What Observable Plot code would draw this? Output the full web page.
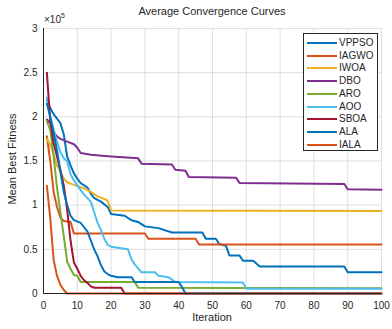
<!DOCTYPE html>
<html><head><meta charset="utf-8">
<script src="https://cdn.jsdelivr.net/npm/d3@7"></script>
<script src="https://cdn.jsdelivr.net/npm/@observablehq/plot@0.6"></script>
<style>
html,body{margin:0;padding:0;background:#fff;}
#wrap{position:relative;width:392px;height:329px;font-family:"Liberation Sans",Arial,sans-serif;color:#262626;}
.ov{position:absolute;white-space:nowrap;}
#legend{position:absolute;left:303px;top:33px;width:75px;height:118px;border:1px solid #262626;background:#fff;box-sizing:border-box;}
.li{position:absolute;left:3px;height:12px;font-size:10px;line-height:12px;}
.li span.sw{position:absolute;left:0;top:5px;width:30px;height:2px;}
.li span.tx{position:absolute;left:32px;top:0;}
</style></head>
<body><div id="wrap"></div>
<script>
// values in units of 1e5
const seriesNames = ["VPPSO","IAGWO","IWOA","DBO","ARO","AOO","SBOA","ALA","IALA"];
const seriesColors = ["#0072BD","#D95319","#EDB120","#7E2F8E","#77AC30","#4DBEEE","#A2142F","#0072BD","#D95319"];
const VPPSO = [[1,2.2],[2,2.1],[3,2.03],[4,1.98],[5,1.93],[6,1.8],[7,1.55],[8,1.45],[9,1.36],[10,1.3],[11,1.25],[13,1.2],[14,1.13],[15,1.08],[17,1.04],[19,0.98],[20,0.9],[24,0.88],[26,0.83],[28,0.81],[30,0.76],[34,0.74],[38,0.69],[47,0.69],[48,0.62],[51,0.62],[52,0.56],[54,0.54],[55,0.43],[58,0.43],[59,0.37],[62,0.37],[64,0.305],[89,0.305],[90,0.24],[100,0.24]];
const IAGWO = [[1,1.78],[2,1.5],[3,1.15],[4,0.98],[5,0.86],[6,0.82],[8,0.81],[9,0.68],[30,0.68],[31,0.62],[45,0.62],[46,0.555],[100,0.555]];
const IWOA = [[1,1.75],[2,1.68],[3,1.58],[4,1.45],[5,1.38],[6,1.3],[7,1.26],[9,1.23],[12,1.19],[14,1.15],[16,1.1],[18,1.07],[19,1.05],[20,0.94],[100,0.935]];
const DBO = [[1,1.97],[2,1.93],[3,1.82],[4,1.78],[5,1.75],[7,1.72],[9,1.69],[10,1.65],[11,1.59],[14,1.57],[20,1.55],[28,1.53],[29,1.47],[38,1.46],[39,1.4],[42,1.39],[43,1.32],[57,1.31],[58,1.25],[89,1.24],[90,1.18],[100,1.175]];
const ARO = [[1,1.95],[2,1.85],[3,1.55],[4,1.2],[5,0.92],[6,0.65],[7,0.36],[8,0.28],[9,0.21],[10,0.2],[11,0.13],[27,0.13],[28,0.065],[100,0.06]];
const AOO = [[1,2.22],[2,2.0],[3,1.86],[4,1.72],[5,1.6],[6,1.53],[7,1.5],[8,1.35],[9,1.28],[11,1.17],[12,1.12],[14,1.04],[15,0.92],[16,0.8],[17,0.72],[18,0.62],[19,0.55],[20,0.53],[25,0.5],[26,0.39],[27,0.33],[29,0.24],[33,0.24],[34,0.2],[37,0.185],[39,0.13],[59,0.125],[60,0.055],[100,0.055]];
const SBOA = [[1,2.5],[2,1.95],[3,1.7],[4,1.55],[5,1.4],[6,1.22],[7,0.95],[8,0.6],[9,0.35],[10,0.28],[11,0.2],[12,0.15],[13,0.12],[14,0.08],[15,0.065],[23,0.065],[24,0],[100,0]];
const ALA = [[1,2.15],[2,2.0],[3,1.82],[4,1.62],[5,1.38],[6,1.15],[7,1.0],[8,0.88],[9,0.83],[11,0.8],[12,0.75],[13,0.7],[14,0.6],[15,0.5],[16,0.42],[17,0.32],[18,0.25],[19,0.22],[20,0.2],[22,0.185],[26,0.185],[27,0.13],[40,0.13],[41,0.07],[42,0],[100,0]];
const IALA = [[1,1.22],[2,0.85],[3,0.38],[4,0.2],[5,0.1],[6,0.04],[7,0],[100,0]];
const seriesValues = [VPPSO,IAGWO,IWOA,DBO,ARO,AOO,SBOA,ALA,IALA];
const xTicks = [0,10,20,30,40,50,60,70,80,90,100];
const yTicks = [0,0.5,1,1.5,2,2.5,3];
const yTickLabels = ["0","0.5","1","1.5","2","2.5","3"];

const rows = [];
seriesNames.forEach((n,i)=>seriesValues[i].forEach(([x,y])=>rows.push({name:n,x,y,idx:i})));

const marks = [
  Plot.gridX(xTicks,{stroke:"#dfdfdf",strokeOpacity:1}),
  Plot.gridY(yTicks,{stroke:"#dfdfdf",strokeOpacity:1}),
  Plot.axisX(xTicks,{tickSize:0,tickPadding:8,fontSize:10,fill:"#262626",label:null}),
  Plot.axisY(yTicks,{tickSize:0,tickPadding:6,fontSize:10,fill:"#262626",label:null,tickFormat:(d,i)=>yTickLabels[i]}),
];
seriesNames.forEach((n,i)=>{
  marks.push(Plot.line(rows.filter(r=>r.idx===i),{x:"x",y:"y",stroke:seriesColors[i],strokeWidth:2}));
});
marks.push(Plot.ruleX([0],{stroke:"#262626",strokeWidth:1}));
marks.push(Plot.ruleY([0],{stroke:"#262626",strokeWidth:1}));

const chart = Plot.plot({
  width:392,height:329,
  marginLeft:43,marginRight:11,marginTop:28,marginBottom:36,
  x:{domain:[0,100]},
  y:{domain:[0,3]},
  style:{fontFamily:'"Liberation Sans",Arial,sans-serif',background:"#fff",color:"#262626"},
  marks
});
const wrap = document.getElementById("wrap");
wrap.appendChild(chart);

function ov(html,css){const d=document.createElement("div");d.className="ov";d.innerHTML=html;Object.assign(d.style,css);wrap.appendChild(d);return d;}
ov("Average Convergence Curves",{left:"0",width:"424px",textAlign:"center",top:"5px",fontSize:"11px"});
ov("&times;10<sup style='font-size:7px;vertical-align:5px'>5</sup>",{left:"44px",top:"12px",fontSize:"10px"});
ov("Iteration",{left:"43px",width:"338px",textAlign:"center",top:"311px",fontSize:"11px"});
ov("Mean Best Fitness",{left:"-38px",top:"153px",width:"100px",textAlign:"center",fontSize:"11px",transform:"rotate(-90deg)"});

const lg = document.createElement("div"); lg.id="legend"; wrap.appendChild(lg);
seriesNames.forEach((n,i)=>{
  const it=document.createElement("div");it.className="li";it.style.top=(3+i*12.7)+"px";it.style.width="70px";
  it.innerHTML=`<span class="sw" style="background:${seriesColors[i]}"></span><span class="tx">${n}</span>`;
  lg.appendChild(it);
});
</script></body></html>
